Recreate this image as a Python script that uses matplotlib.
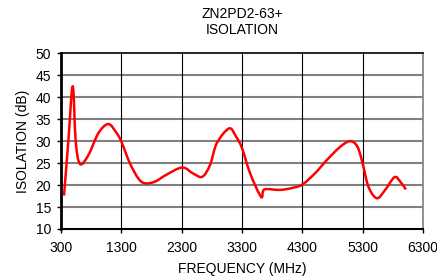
import matplotlib
matplotlib.use('Agg')
from matplotlib import pyplot as plt
from matplotlib.path import Path
from matplotlib.patches import PathPatch

freq_mhz = [350, 421, 494, 544, 615, 753, 919, 1085, 1223, 1300, 1444, 1582, 1693,
            1859, 2053, 2312, 2494, 2643, 2771, 2881, 3086, 3202, 3300, 3434, 3617,
            3671, 3932, 4152, 4308, 4512, 4706, 4927, 5093, 5214, 5300, 5396, 5535,
            5673, 5827, 5922, 6016]
isolation_db = [17.6, 29.9, 42.5, 29.9, 24.8, 26.8, 31.8, 33.9, 31.8, 29.9, 24.9, 21.5, 20.4,
                20.8, 22.4, 24.0, 22.6, 21.9, 24.6, 29.5, 32.9, 31.0, 28.4, 22.7, 17.3,
                19.0, 18.9, 19.4, 20.2, 22.7, 25.7, 28.7, 30.0, 28.7, 24.9, 19.6, 17.0,
                18.9, 21.8, 20.8, 19.0]

x_ticks = list(range(300, 6301, 1000))
y_ticks = list(range(10, 51, 5))


def smooth_path(xs, ys, k=6.0):
    # bezier path through the points, like a "smoothed line" chart
    pts = list(zip(xs, ys))
    verts = [pts[0]]
    codes = [Path.MOVETO]
    for i in range(len(pts) - 1):
        p0 = pts[i - 1] if i > 0 else pts[i]
        p1 = pts[i]
        p2 = pts[i + 1]
        p3 = pts[i + 2] if i + 2 < len(pts) else pts[i + 1]
        c1 = (p1[0] + (p2[0] - p0[0]) / k, p1[1] + (p2[1] - p0[1]) / k)
        c2 = (p2[0] - (p3[0] - p1[0]) / k, p2[1] - (p3[1] - p1[1]) / k)
        verts += [c1, c2, p2]
        codes += [Path.CURVE4] * 3
    return Path(verts, codes)


plt.rcParams['font.family'] = ['Liberation Sans', 'DejaVu Sans']

fig = plt.figure(figsize=(4.37, 2.78), dpi=100)
ax = fig.add_axes([0.1396, 0.1763, 0.8284, 0.632])

ax.add_patch(PathPatch(smooth_path(freq_mhz, isolation_db), facecolor='none',
                       edgecolor='#ff0000', lw=1.8, joinstyle='round', zorder=3))

ax.set_xlim(300, 6300)
ax.set_ylim(10, 50)
ax.set_xticks(x_ticks)
ax.set_yticks(y_ticks)
ax.tick_params(labelsize=10, length=3, width=1, direction='out')
ax.tick_params(axis='x', pad=6)
ax.tick_params(axis='y', pad=4)

for y in y_ticks[1:-1]:
    ax.axhline(y, color='#808080', lw=1.5, zorder=1)
for x in x_ticks[1:-1]:
    ax.axvline(x, color='black', lw=0.8, zorder=1)

ax.spines['left'].set_linewidth(2)
ax.spines['bottom'].set_linewidth(1.5)
ax.spines['top'].set_linewidth(1.2)
ax.spines['right'].set_color('#808080')
ax.spines['right'].set_linewidth(1.2)

ax.set_title('ZN2PD2-63+\nISOLATION', fontsize=10, pad=14, linespacing=1.2)
ax.set_xlabel('FREQUENCY (MHz)', fontsize=10, labelpad=5)
ax.set_ylabel('ISOLATION (dB)', fontsize=10, labelpad=4)

fig.savefig('out.png', dpi=100)
